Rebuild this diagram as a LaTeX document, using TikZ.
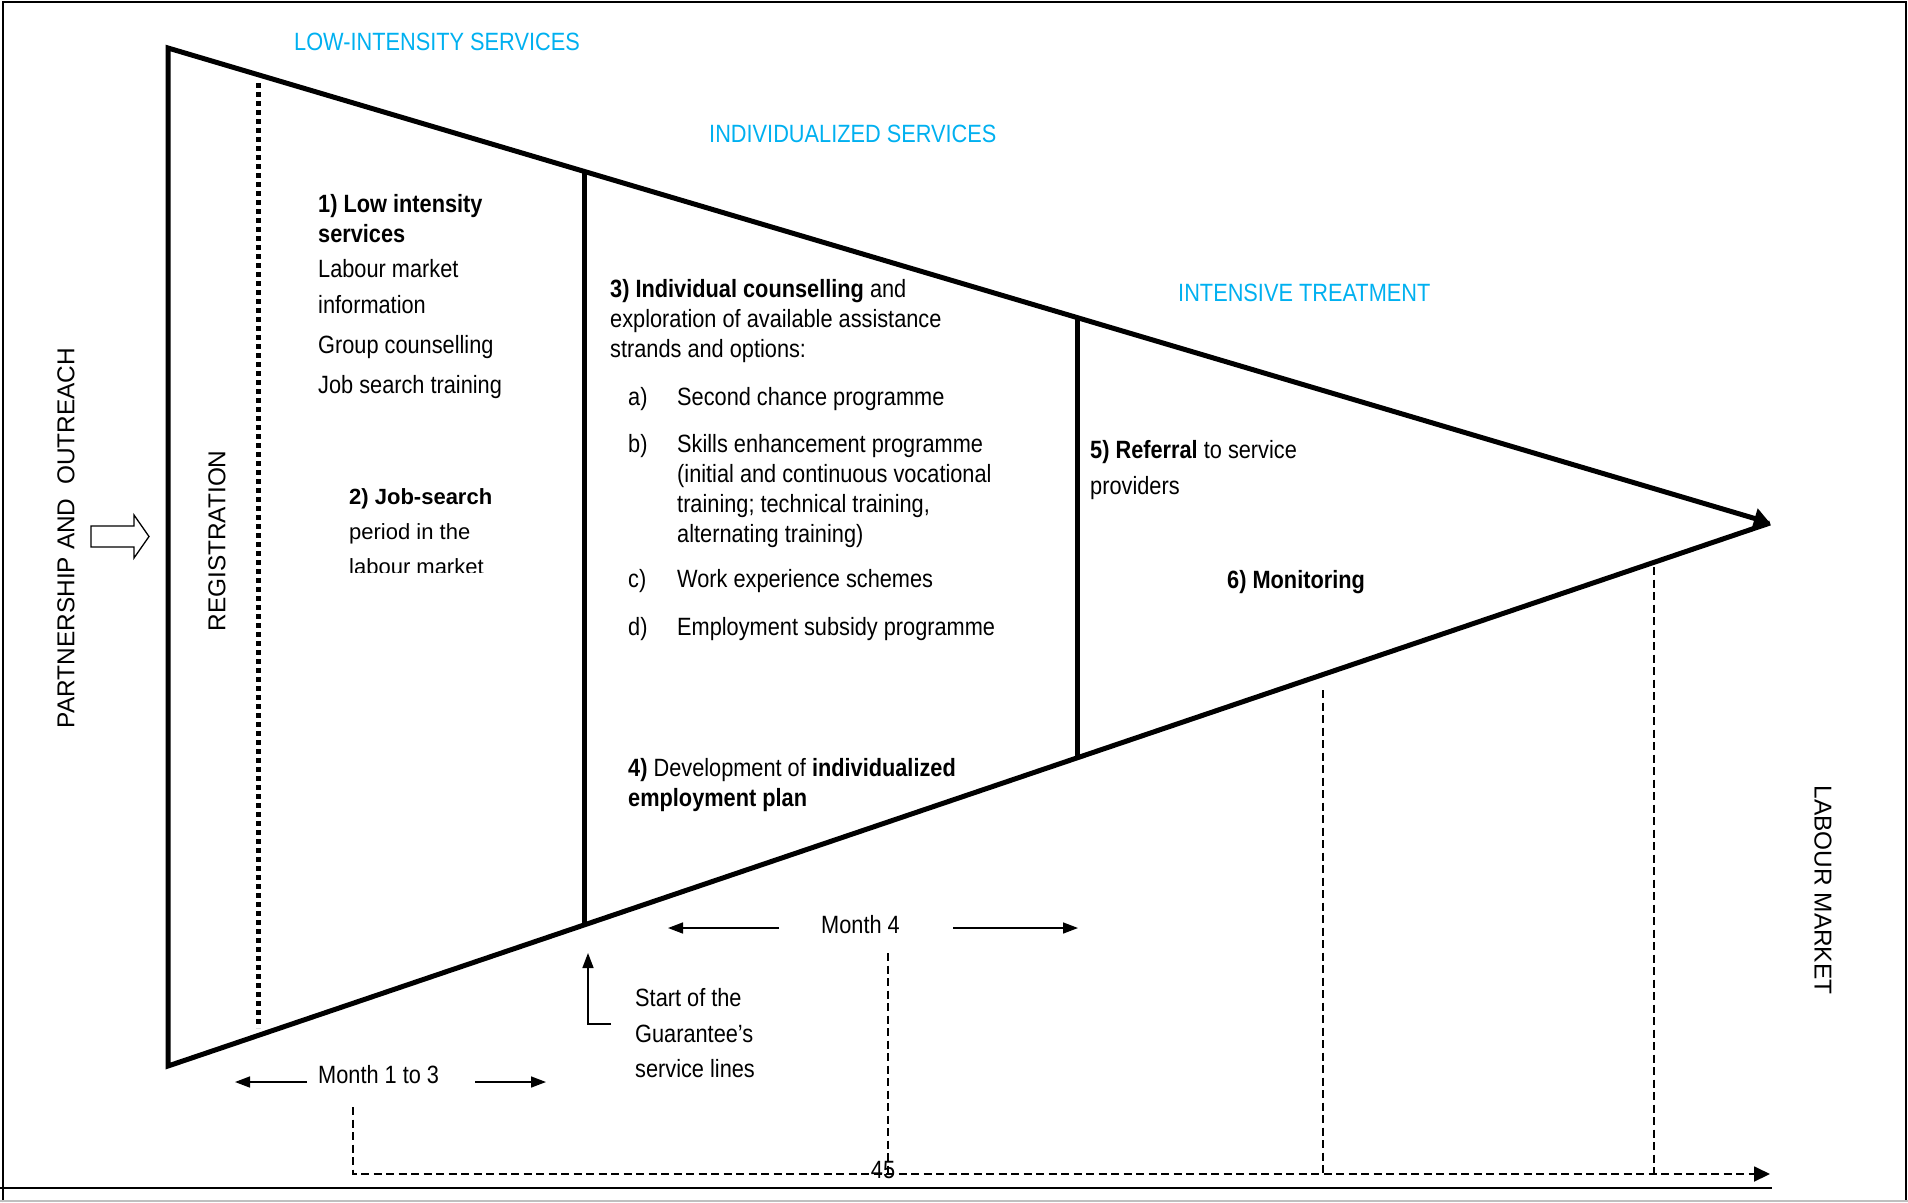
\documentclass[tikz,border=0pt]{standalone}
\usepackage{fontspec}
\setmainfont{Liberation Sans}[FakeStretch=0.87]
\newfontfamily\wideface{Liberation Sans}
\usetikzlibrary{arrows.meta, calc, positioning}
\definecolor{skyblue}{RGB}{0,176,240}

\begin{document}
\begin{tikzpicture}[
    x=1pt, y=-1pt,
    % Styles
    funnel/.style={line width=5pt, line join=miter},
    divider/.style={line width=5pt},
    regdots/.style={line width=5pt, dash pattern=on 5pt off 4pt},
    guide/.style={line width=1.8pt, dash pattern=on 8pt off 4.5pt},
    monarrow/.style={-{Triangle[length=15pt, width=11pt]}, line width=1.5pt},
    phase/.style={font=\fontsize{25}{30}\selectfont, text=skyblue, anchor=base west, inner sep=0pt},
    body/.style={font=\fontsize{25}{30}\selectfont, anchor=base west, inner sep=0pt, align=left},
    wide/.style={font=\wideface\fontsize{22}{35}\selectfont, anchor=base west, inner sep=0pt, align=left},
    side/.style={font=\wideface\fontsize{24.4}{28}\selectfont, inner sep=0pt}
]
\useasboundingbox (0,0) rectangle (1908,1202);

% PAGE FRAME
\draw[line width=2pt] (3,1202) -- (3,2) -- (1906,2) -- (1906,1202);
\draw[line width=2pt] (0,1188) -- (1772,1188);
\draw[line width=1.5pt, gray!50] (0,1201) -- (1908,1201);

% 1. FUNNEL
\coordinate (tl) at (168,48);
\coordinate (bl) at (168,1066);
\coordinate (apex) at (1770,523);
\draw[funnel, -{Triangle[length=16pt, width=20pt]}] (apex) -- (bl) -- (tl) -- (apex);

\coordinate (g1t) at ($(tl)!0.2597!(apex)$);
\coordinate (g1b) at ($(bl)!0.2597!(apex)$);
\coordinate (g2t) at ($(tl)!0.568!(apex)$);
\coordinate (g2b) at ($(bl)!0.568!(apex)$);
\draw[divider] (g1t) -- (g1b);
\draw[divider] (g2t) -- (g2b);
\draw[regdots] (258,83) -- (258,1028);

% 2. PHASE TITLES
\node[phase] (lowint) at (294,50) {LOW-INTENSITY SERVICES};
\node[phase] (indserv) at (709,142) {INDIVIDUALIZED SERVICES};
\node[phase] (intens) at (1178,301) {INTENSIVE TREATMENT};

% 3. SIDE LABELS
\node[side, rotate=90] (partner) at (66,538) {PARTNERSHIP AND\ \ OUTREACH};
\node[side, rotate=90] (regist) at (217,541) {REGISTRATION};
\node[side, rotate=-90] (labour) at (1823,890) {LABOUR MARKET};
\draw[line width=1.3pt, line join=miter] (91,526) -- (134,526) -- (134,515) -- (149,536.5)
    -- (134,558) -- (134,547) -- (91,547) -- cycle;

% 4. STEPS (node base = last line)
\node[body] (step1) at (318,393) {\textbf{1) Low intensity}\\\textbf{services}\\[5pt]
    Labour market\\[6pt]information\\[10pt]Group counselling\\[10pt]Job search training};

\begin{scope}
\clip (300,440) rectangle (580,572);
\node[wide] (step2) at (349,574) {\textbf{2) Job-search}\\period in the\\labour market};
\end{scope}

\node[body] (step3) at (610,405) {\textbf{3) Individual counselling} and\\
    exploration of available assistance\\strands and options:\\[18pt]
    \hspace*{18pt}\begin{tabular}[t]{@{}p{49pt}@{}l@{}}
    a) & Second chance programme\\[17pt]
    b) & Skills enhancement programme\\
       & (initial and continuous vocational\\
       & training; technical training,\\
       & alternating training)\\[15pt]
    c) & Work experience schemes\\[18pt]
    d) & Employment subsidy programme
    \end{tabular}};

\node[body] (step4) at (628,806) {\textbf{4)} Development of \textbf{individualized}\\\textbf{employment plan}};
\node[body] (step5) at (1090,494) {\textbf{5) Referral} to service\\[6pt]providers};
\node[body] (step6) at (1227,588) {\textbf{6) Monitoring}};

% 5. TIMELINE
\node[body] (m13) at (318,1083) {Month 1 to 3};
\coordinate (m13l) at (235,1082);
\coordinate (m13r) at (546,1082);
\draw[monarrow, shorten <=11pt] (m13.west |- m13l) -- (m13l);
\draw[monarrow, shorten <=36pt] (m13.east |- m13r) -- (m13r);

\node[body] (m4) at (821,933) {Month 4};
\coordinate (m4l) at (668,928);
\coordinate (m4r) at (1078,928);
\draw[monarrow, shorten <=42pt] (m4.west |- m4l) -- (m4l);
\draw[monarrow, shorten <=53pt] (m4.east |- m4r) -- (m4r);

\node[body] (start) at (635,1077) {Start of the\\[6pt]Guarantee's\\[5pt]service lines};
\coordinate (gtip) at (588,953);
\draw[monarrow, shorten <=24pt] (start.west |- 612,1024) -| (gtip);

\node[body, anchor=base] (page) at (883,1178) {45};
\coordinate (t0) at (353,1107);
\coordinate (tend) at (1770,1174);
\draw[guide, -{Triangle[length=16pt, width=15pt]}] (t0) |- (tend);
\draw[guide] (888,953) -- (888,1174);
\draw[guide] (1323,690) -- (1323,1174);
\draw[guide] (1654,567) -- (1654,1174);

\end{tikzpicture}
\end{document}
